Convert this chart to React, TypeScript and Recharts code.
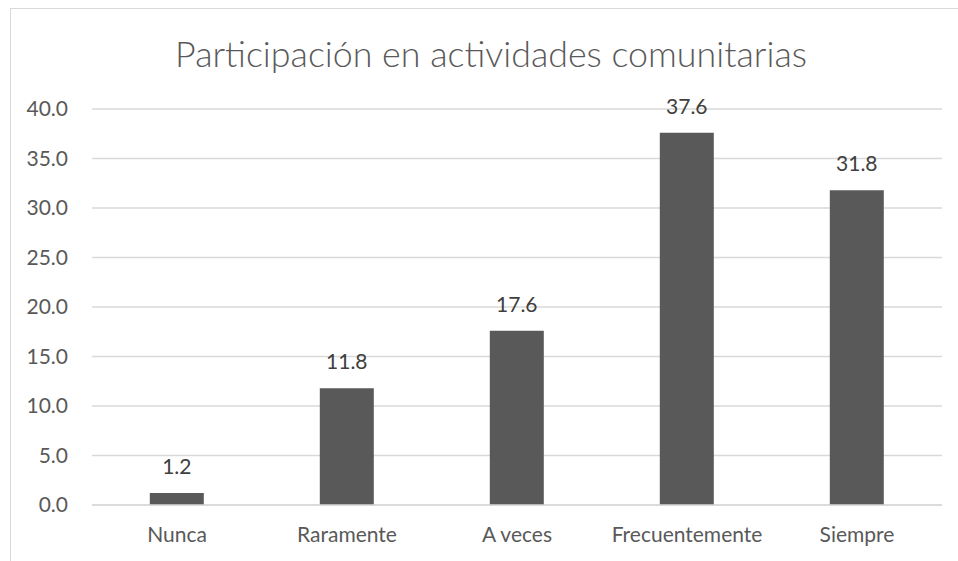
import { BarChart, Bar, XAxis, YAxis, CartesianGrid, LabelList } from 'recharts';

const categories = ['Nunca', 'Raramente', 'A veces', 'Frecuentemente', 'Siempre'];
const values = [1.2, 11.8, 17.6, 37.6, 31.8];
const yTicks = [0, 5, 10, 15, 20, 25, 30, 35, 40];

const data = categories.map((name, i) => ({ name, value: values[i] }));

const FONT = 'Lato, "Liberation Sans", sans-serif';

export default function App() {
  return (
    <div style={{ position: 'absolute', left: 0, top: 0, width: 958, height: 561, overflow: 'hidden', background: '#fff' }}>
      <div
        style={{
          position: 'absolute',
          left: 10,
          top: 8,
          width: 1000,
          height: 600,
          border: '1px solid #d9d9d9',
          boxSizing: 'border-box',
        }}
      />
      <BarChart
        width={958}
        height={561}
        data={data}
        margin={{ top: 109, right: 16, bottom: 26, left: 0 }}
        barCategoryGap="34%"
        style={{ position: 'absolute', left: 0, top: 0, fontFamily: FONT }}
      >
        <CartesianGrid vertical={false} stroke="#d9d9d9" strokeWidth={1.3} />
        <XAxis
          dataKey="name"
          height={30}
          axisLine={{ stroke: '#d9d9d9', strokeWidth: 1.3 }}
          tickLine={false}
          tickMargin={16}
          tick={{ fontSize: 21, fill: '#595959', fontFamily: FONT }}
        />
        <YAxis
          width={92}
          domain={[0, 40]}
          ticks={yTicks}
          axisLine={false}
          tickLine={false}
          tickMargin={18}
          tickFormatter={(v: number) => v.toFixed(1)}
          tick={{ fontSize: 21, fill: '#595959', fontFamily: FONT }}
        />
        <Bar dataKey="value" fill="#595959" isAnimationActive={false}>
          <LabelList
            dataKey="value"
            position="top"
            offset={19}
            formatter={(v: number) => v.toFixed(1)}
            style={{ fontSize: 21, fill: '#404040', fontFamily: FONT }}
          />
        </Bar>
      </BarChart>
      <svg width={958} height={561} style={{ position: 'absolute', left: 0, top: 0, pointerEvents: 'none' }}>
        <text x={491} y={67} textAnchor="middle" fontSize={35.8} fontWeight={300} fill="#595959" fontFamily={FONT}>
          Participación en actividades comunitarias
        </text>
      </svg>
    </div>
  );
}
